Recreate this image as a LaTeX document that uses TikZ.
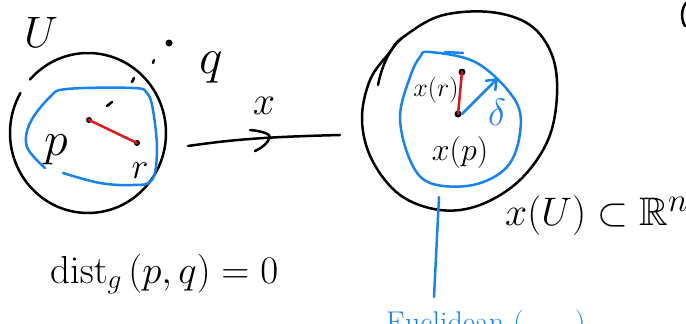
\RequirePackage{fix-cm}
\documentclass[tikz,border=0pt]{standalone}
\usepackage{amssymb}
\usetikzlibrary{arrows.meta}
\definecolor{sky}{RGB}{22,132,240}
\definecolor{crimson}{RGB}{222,24,24}
\begin{document}
\begin{tikzpicture}[x=1pt,y=-1pt, line cap=round, line join=round,
  ink/.style={line width=2.5pt,draw=black},
  blueink/.style={line width=2.5pt,draw=sky},
  redink/.style={line width=2.5pt,draw=crimson},
  lbl/.style={inner sep=0pt,text=black},
  dotp/.style={circle,fill=black,inner sep=0pt,minimum size=7pt}]
\useasboundingbox (0,0) rectangle (686,324);
\clip (0,0) rectangle (686,324);

% ---------- left chart domain U ----------
\node[lbl,font=\fontsize{44}{44}\selectfont] (U) at (41,32) {$U$};
\draw[ink] (88,133) ++(222:78 and 80) arc[start angle=222,end angle=570,x radius=78,y radius=80];
\draw[blueink] plot[smooth,tension=0.6] coordinates {(63,173) (100,183) (133,185) (152,180) (157,150) (153,110) (147,93) (133,88) (67,89) (50,97) (30,123) (27,147) (45,168)};
\node[dotp,minimum size=6pt] (p) at (89,120) {};
\node[dotp,minimum size=6pt] (r) at (137,143) {};
\draw[redink] (p.center) -- (r.center);
\node[dotp] (q) at (169,43) {};
\draw[ink] (107,106) -- (112,102);
\draw[ink] (132,82) -- (134,78);
\draw[ink] (153,63) -- (154,60);
\node[lbl,font=\fontsize{48}{48}\selectfont] (plbl) at (56,150) {$p$};
\node[lbl,font=\fontsize{36}{36}\selectfont] (rlbl) at (140,171) {$r$};
\node[lbl,font=\fontsize{50}{50}\selectfont] (qlbl) at (211,68) {$q$};
\node[lbl,font=\fontsize{39}{39}\selectfont,anchor=base west] (dist) at (50,283) {$\mathrm{dist}_g\,(p,q)=0$};

% ---------- chart map arrow ----------
\coordinate (a0) at (188,146);
\coordinate (a1) at (340,135);
\coordinate (ah) at (270,137);
\draw[ink] (a0) .. controls (230,140) and (260,137) .. (a1);
\draw[ink] (250,130) .. controls (262,131) and (270,134) .. (ah) .. controls (268,143) and (262,148) .. (255,151);
\node[lbl,font=\fontsize{40}{40}\selectfont] (xlbl) at (264,106) {$x$};

% ---------- right: image in R^n ----------
\draw[ink] plot[smooth cycle,tension=0.6] coordinates {(402,38) (440,16) (490,12) (530,25) (552,55) (557,95) (548,140) (520,180) (480,205) (440,210) (400,195) (372,160) (362,120) (370,80) (390,52)};
\draw[ink] (378,85) .. controls (382,65) and (390,48) .. (402,38);
\draw[blueink] plot[smooth cycle,tension=0.6] coordinates {(430,52) (477,63) (515,100) (520,133) (507,167) (473,185) (430,183) (410,160) (400,117) (410,77) (420,57)};
\draw[blueink] (445,52) -- (463,53);
\node[dotp] (xr) at (462,72) {};
\node[dotp] (xp) at (458,114) {};
\draw[redink] (xp.center) -- (xr.center);
\coordinate (dtip) at (498,78);
\draw[blueink,-{Straight Barb[length=9pt,width=14pt,line width=2.5pt]}] (xp.center) ++(4,0) -- (dtip);
\node[lbl,text=sky,font=\fontsize{38}{38}\selectfont] (delta) at (497,112) {$\delta$};
\node[lbl,font=\fontsize{26}{26}\selectfont] (xrlbl) at (436,90) {$x(r)$};
\node[lbl,font=\fontsize{32}{32}\selectfont] (xplbl) at (460,152) {$x(p)$};
\node[lbl,anchor=west] (img) at (505,216) {\scalebox{1.6}{\fontsize{24.88}{26}\selectfont$x(U)\subset\mathbb{R}^n$}};

% ---------- blue annotation ----------
\coordinate (b0) at (439,197);
\coordinate (b1) at (434,297);
\draw[blueink] (b0) -- (b1);
\node[lbl,text=sky,font=\fontsize{30}{30}\selectfont,anchor=north west] (eucl) at (386,310) {Euclidean $(\;\ldots\;)$};

% partial stroke at top right corner
\draw[ink] (686,3) .. controls (681,9) and (681,20) .. (685,26);
\end{tikzpicture}
\end{document}
